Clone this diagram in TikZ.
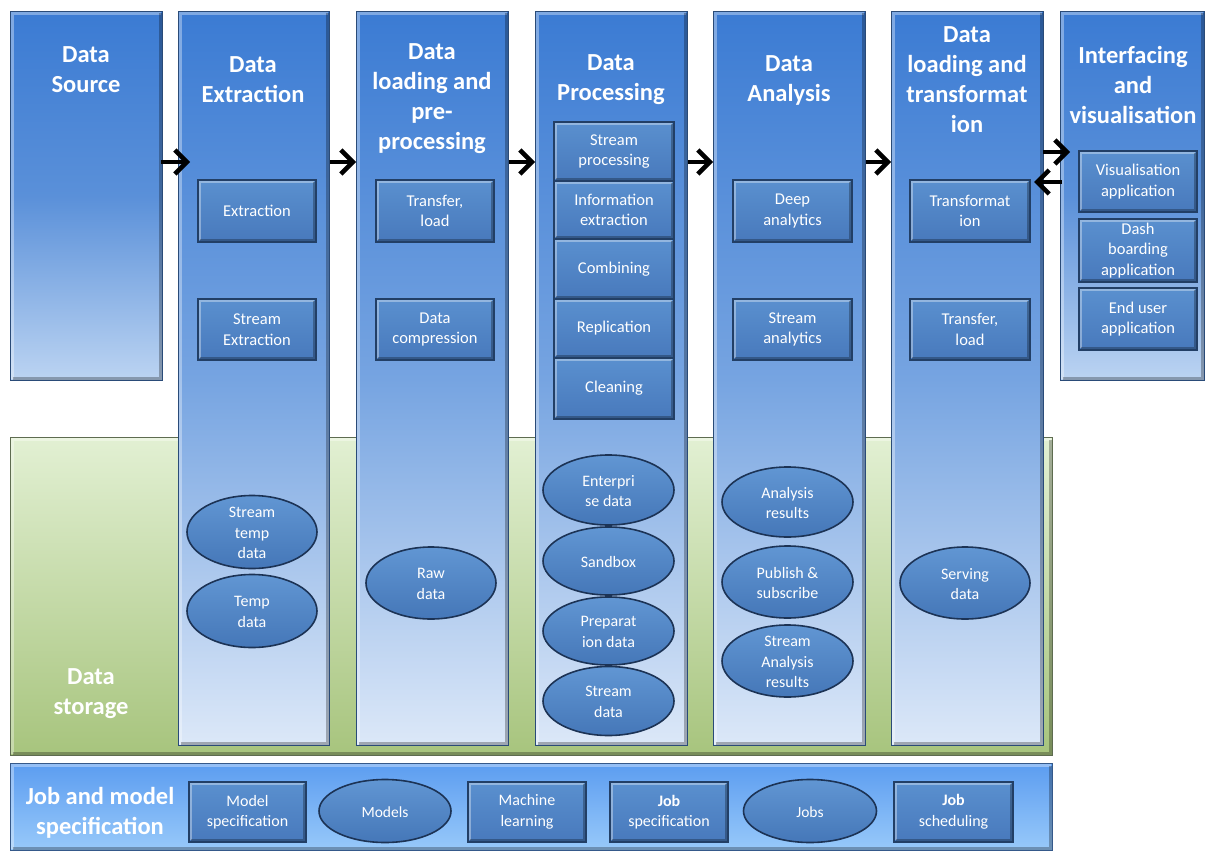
\documentclass[tikz,border=0pt]{standalone}
\usepackage{fontspec}
\setmainfont{Carlito}
\usetikzlibrary{arrows.meta,shapes.geometric,calc}
\definecolor{colTop}{HTML}{3B7BD3}
\definecolor{colMid}{HTML}{76A4E1}
\definecolor{colBot}{HTML}{DCE8F8}
\definecolor{colMidS}{HTML}{5A90D9}
\definecolor{colBotS}{HTML}{BCD4F2}
\definecolor{colEdge}{HTML}{2A4B78}
\definecolor{boxTop}{HTML}{5A90CF}
\definecolor{boxBot}{HTML}{4879BC}
\definecolor{boxEdge}{HTML}{223F66}
\definecolor{ellTop}{HTML}{6196D3}
\definecolor{ellBot}{HTML}{4577B8}
\definecolor{ellEdge}{HTML}{1C3355}
\definecolor{grTop}{HTML}{E2F0D3}
\definecolor{grBot}{HTML}{A7C47D}
\definecolor{grEdge}{HTML}{5E6C50}
\definecolor{jbTop}{HTML}{5C9DF0}
\definecolor{jbBot}{HTML}{98C9FA}
\definecolor{jbEdge}{HTML}{35598A}
\newcommand\mybox[7][]{%
  \node[ibox,#1,minimum width={(#5-#3)*1pt},minimum height={(#6-#4)*1pt}] (#2) at ({(#3+#5)/2},{(#4+#6)/2}) {#7};}
\newcommand\myell[7][]{%
  \node[ell,minimum width={#5*1pt},minimum height={#6*1pt}] (#2) at (#3,#4) {};
  \node[etxt,#1] (#2t) at ([yshift=-1pt]#2.center) {#7};}
\begin{document}
\begin{tikzpicture}[x=1pt,y=-1pt,
  bevel/.style={path picture={
    \draw[white,opacity=.35,line width=2.5pt] ([shift={(2pt,2pt)}]path picture bounding box.south west) |- ([shift={(-2pt,-2pt)}]path picture bounding box.north east);
    \draw[black,opacity=.28,line width=2.5pt] ([shift={(2pt,2pt)}]path picture bounding box.south west) -| ([shift={(-2pt,-2pt)}]path picture bounding box.north east);}},
  colbox/.style={rectangle,draw=colEdge,line width=1pt,top color=colTop,bottom color=colBot,middle color=colMid,inner sep=0,anchor=north west,bevel},
  shortcol/.style={colbox,bottom color=colBotS,middle color=colMidS},
  storage/.style={rectangle,draw=grEdge,line width=1pt,top color=grTop,bottom color=grBot,inner sep=0,anchor=north west,bevel},
  jobbar/.style={rectangle,draw=jbEdge,line width=1pt,top color=jbTop,bottom color=jbBot,inner sep=0,anchor=north west,bevel},
  ttl/.style={text=white,font=\bfseries\fontsize{24.5}{30}\selectfont,align=center,inner sep=0},
  ibox/.style={rectangle,draw=boxEdge,line width=1.2pt,top color=boxTop,bottom color=boxBot,inner sep=0,text=white,align=center,font=\fontsize{16.5}{20.5}\selectfont,bevel},
  ell/.style={ellipse,draw=ellEdge,line width=1.6pt,top color=ellTop,bottom color=ellBot,inner sep=0},
  etxt/.style={text=white,align=center,font=\fontsize{16}{20.5}\selectfont,inner sep=0},
  arr/.style={line width=4.5pt,-{Straight Barb[length=12pt,width=24pt]}}]
\useasboundingbox (0,0) rectangle (1205,851);
% background panels
\node[storage,minimum width=1042pt,minimum height=318pt] (ds) at (10,437) {};
\node[jobbar,minimum width=1042pt,minimum height=87pt] (jb) at (10,763) {};
% columns
\node[shortcol,minimum width=152pt,minimum height=369pt] (c1) at (10,11) {};
\node[colbox,minimum width=151pt,minimum height=734pt] (c2) at (178,11) {};
\node[colbox,minimum width=152pt,minimum height=734pt] (c3) at (356,11) {};
\node[colbox,minimum width=152pt,minimum height=734pt] (c4) at (535,11) {};
\node[colbox,minimum width=152pt,minimum height=734pt] (c5) at (713,11) {};
\node[colbox,minimum width=152pt,minimum height=734pt] (c6) at (891,11) {};
\node[shortcol,minimum width=144pt,minimum height=369pt] (c7) at (1060,11) {};
% titles
\node[ttl] (t1) at (86,70) {Data\\Source};
\node[ttl] (t2) at (253,80) {Data\\Extraction};
\node[ttl] (t3) at (432,99) {Data\\loading and\\pre-\\processing};
\node[ttl] (t4) at (611,80) {Data\\Processing};
\node[ttl] (t5) at (789,80) {Data\\Analysis};
\node[ttl] (t6) at (967,80) {Data\\loading and\\transformat\\ion};
\node[ttl] (t7) at (1133,85) {Interfacing\\and\\visualisation};
\node[ttl] (t8) at (91,694) {Data\\storage};
\node[ttl] (t9) at (100,813) {Job and model\\specification};
% inner boxes
\mybox{b1}{198}{180}{316}{242}{Extraction}
\mybox{b2}{198}{299}{316}{360}{Stream\\Extraction}
\mybox{b3}{376}{180}{494}{242}{Transfer,\\load}
\mybox{b4}{376}{299}{494}{360}{Data\\compression}
\mybox{b5}{554}{122}{674}{181}{Stream\\processing}
\mybox{b6}{554}{181}{674}{239}{Information\\extraction}
\mybox{b7}{554}{239}{674}{299}{Combining}
\mybox{b8}{554}{299}{674}{358}{Replication}
\mybox{b9}{554}{358}{674}{419}{Cleaning}
\mybox{b10}{733}{180}{852}{242}{Deep\\analytics}
\mybox{b11}{733}{299}{852}{360}{Stream\\analytics}
\mybox{b12}{910}{180}{1030}{242}{Transformat\\ion}
\mybox{b13}{910}{299}{1030}{360}{Transfer,\\load}
\mybox{b14}{1079}{151}{1197}{212}{Visualisation\\application}
\mybox{b15}{1079}{219}{1197}{282}{Dash\\boarding\\application}
\mybox{b16}{1079}{288}{1197}{350}{End user\\application}
\mybox[font=\fontsize{16}{20.5}\selectfont]{b17}{189}{782}{306}{842}{Model\\specification}
\mybox[font=\fontsize{16}{20.5}\selectfont]{b18}{468}{782}{586}{842}{Machine\\learning}
\mybox[font=\fontsize{16}{20.5}\selectfont]{b19}{610}{782}{728}{842}{\textbf{Job}\\specification}
\mybox[font=\fontsize{16}{20.5}\selectfont]{b20}{894}{782}{1013}{842}{\textbf{Job}\\scheduling}
% ellipses
\myell{e1}{252}{532}{130}{73}{Stream\\temp\\data}
\myell{e2}{252}{611}{130}{73}{Temp\\data}
\myell{e3}{431}{583}{130}{72}{Raw\\data}
\myell{e4}{608.5}{490}{131}{70}{Enterpri\\se data}
\myell{e5}{608.5}{561}{131}{68}{Sandbox}
\myell{e6}{608.5}{631}{131}{68}{Preparat\\ion data}
\myell{e7}{608.5}{701}{131}{69}{Stream\\data}
\myell{e8}{787.5}{502}{131}{70}{Analysis\\results}
\myell{e9}{787.5}{582}{131}{72}{Publish \&\\subscribe}
\myell{e10}{787.5}{661}{131}{72}{Stream\\Analysis\\results}
\myell{e11}{965}{583}{130}{72}{Serving\\data}
\myell[font=\fontsize{15.5}{20}\selectfont]{e12}{385}{811}{132}{63}{Models}
\myell[font=\fontsize{15.5}{20}\selectfont]{e13}{810}{811}{133}{63}{Jobs}
% arrows
\coordinate (ya) at (0,162);
\coordinate (yr) at (0,152);
\coordinate (yl) at (0,182);
\draw[arr,shorten <=-2pt,shorten >=-12pt] (c1.east |- ya) -- (c2.west |- ya);
\draw[arr] (c2.east |- ya) -- (c3.west |- ya);
\draw[arr] (c3.east |- ya) -- (c4.west |- ya);
\draw[arr] (c4.east |- ya) -- (c5.west |- ya);
\draw[arr] (c5.east |- ya) -- (c6.west |- ya);
\draw[arr,shorten <=-1pt,shorten >=-10pt] (c6.east |- yr) -- (c7.west |- yr);
\draw[arr,shorten <=-2pt,shorten >=-10pt] (c7.west |- yl) -- (c6.east |- yl);
\end{tikzpicture}
\end{document}
